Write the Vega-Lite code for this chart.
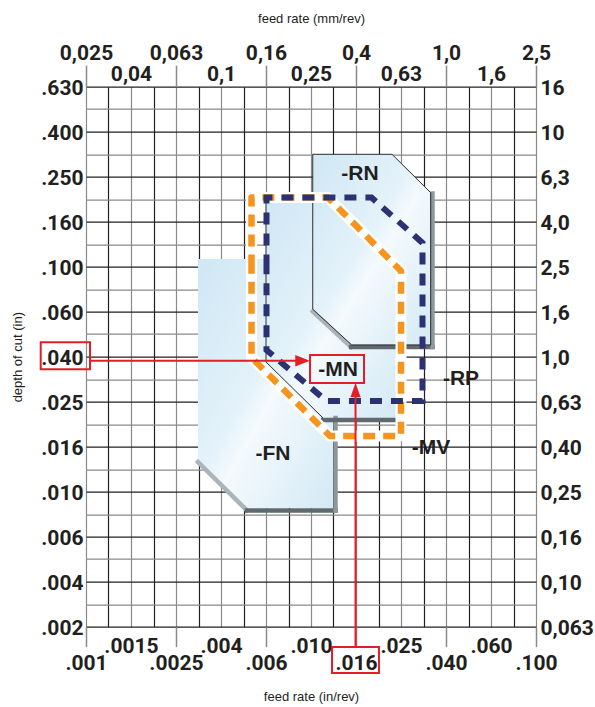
{
  "$schema": "https://vega.github.io/schema/vega-lite/v6.json",
  "width": 450,
  "height": 540,
  "autosize": {"type": "none"},
  "padding": {"left": 86, "top": 86.7, "right": 59, "bottom": 80.3},
  "background": "#ffffff",
  "config": {
    "view": {"stroke": null},
    "axis": {
      "domain": false,
      "grid": false,
      "ticks": false,
      "labelFont": "Roboto, DejaVu Sans Condensed, sans-serif",
      "labelFontSize": 21,
      "labelFontWeight": "bold",
      "labelColor": "#231f20",
      "labelOverlap": false,
      "labelFlush": false,
      "labelBound": false,
      "titleFont": "Liberation Sans, Arial, sans-serif",
      "titleFontSize": 13,
      "titleFontWeight": "normal",
      "titleColor": "#231f20",
      "tickColor": "#8a8a8a",
      "tickWidth": 1.5
    }
  },
  "datasets": {
    "fn": [
      {"i": 1, "x": 0.003146, "y": 0.108},
      {"i": 2, "x": 0.01252, "y": 0.108},
      {"i": 3, "x": 0.01252, "y": 0.00846},
      {"i": 4, "x": 0.005196, "y": 0.00846},
      {"i": 5, "x": 0.003146, "y": 0.01381}
    ],
    "mn": [
      {"i": 1, "x": 0.00631, "y": 0.2058},
      {"i": 2, "x": 0.02436, "y": 0.2058},
      {"i": 3, "x": 0.02436, "y": 0.02123},
      {"i": 4, "x": 0.01131, "y": 0.02123},
      {"i": 5, "x": 0.00631, "y": 0.03766}
    ],
    "rn": [
      {"i": 1, "x": 0.01018, "y": 0.3154},
      {"i": 2, "x": 0.02291, "y": 0.3154},
      {"i": 3, "x": 0.03404, "y": 0.2129},
      {"i": 4, "x": 0.03404, "y": 0.04481},
      {"i": 5, "x": 0.01517, "y": 0.04481},
      {"i": 6, "x": 0.01018, "y": 0.06457}
    ],
    "shadow": [
      {"edge": "lit", "x": 0.003146, "y": 0.01353, "x2": 0.005196, "y2": 0.008237},
      {"edge": "dark", "x": 0.005196, "y": 0.008237, "x2": 0.01285, "y2": 0.008237},
      {"edge": "mid", "x": 0.01285, "y": 0.008237, "x2": 0.01285, "y2": 0.02123},
      {"edge": "dark", "x": 0.01131, "y": 0.0208, "x2": 0.02499, "y2": 0.0208},
      {"edge": "mid", "x": 0.02499, "y": 0.0208, "x2": 0.02499, "y2": 0.04481},
      {"edge": "lit", "x": 0.01018, "y": 0.06313, "x2": 0.01507, "y2": 0.04389},
      {"edge": "dark", "x": 0.01507, "y": 0.04389, "x2": 0.03467, "y2": 0.04389},
      {"edge": "mid", "x": 0.03467, "y": 0.04389, "x2": 0.03467, "y2": 0.2111}
    ],
    "outline": [
      {"id": "mn", "i": 1, "x": 0.00631, "y": 0.2058},
      {"id": "mn", "i": 2, "x": 0.00631, "y": 0.03766},
      {"id": "mn", "i": 3, "x": 0.01131, "y": 0.02123},
      {"id": "rn", "i": 1, "x": 0.01018, "y": 0.3154},
      {"id": "rn", "i": 2, "x": 0.02291, "y": 0.3154},
      {"id": "rn", "i": 3, "x": 0.03404, "y": 0.2129},
      {"id": "rn", "i": 4, "x": 0.03404, "y": 0.04481},
      {"id": "rn", "i": 5, "x": 0.01517, "y": 0.04481},
      {"id": "rn", "i": 6, "x": 0.01018, "y": 0.06457},
      {"id": "rn", "i": 7, "x": 0.01018, "y": 0.3154}
    ],
    "mv": [
      {"i": 1, "x": 0.00544, "y": 0.1},
      {"i": 2, "x": 0.00544, "y": 0.2028},
      {"i": 3, "x": 0.0119, "y": 0.2028},
      {"i": 4, "x": 0.02512, "y": 0.09557},
      {"i": 5, "x": 0.02512, "y": 0.01766},
      {"i": 6, "x": 0.01214, "y": 0.01766},
      {"i": 7, "x": 0.00544, "y": 0.03942},
      {"i": 8, "x": 0.00544, "y": 0.1}
    ],
    "rp": [
      {"i": 1, "x": 0.006342, "y": 0.1},
      {"i": 2, "x": 0.006342, "y": 0.2028},
      {"i": 3, "x": 0.01857, "y": 0.2028},
      {"i": 4, "x": 0.0313, "y": 0.1273},
      {"i": 5, "x": 0.0313, "y": 0.02526},
      {"i": 6, "x": 0.01172, "y": 0.02526},
      {"i": 7, "x": 0.006342, "y": 0.04257},
      {"i": 8, "x": 0.006342, "y": 0.1}
    ],
    "redlines": [
      {"x": 0.001042, "y": 0.03816, "x2": 0.008577, "y2": 0.03816},
      {"x": 0.01577, "y": 0.002037, "x2": 0.01577, "y2": 0.02658}
    ],
    "redboxes": [
      {"x": 0.0006291, "x2": 0.001042, "y": 0.04606, "y2": 0.03494},
      {"x": 0.009899, "x2": 0.0172, "y": 0.04046, "y2": 0.03037},
      {"x": 0.0124, "x2": 0.02005, "y": 0.002037, "y2": 0.001561}
    ],
    "arrows": [
      {"dir": "right", "x": 0.009167, "y": 0.03816},
      {"dir": "up", "x": 0.01577, "y": 0.02827}
    ],
    "names": [
      {"label": "-RN", "x": 0.01651, "y": 0.2579},
      {"label": "-MN", "x": 0.01318, "y": 0.03469},
      {"label": "-FN", "x": 0.006778, "y": 0.01476},
      {"label": "-RP", "x": 0.04642, "y": 0.0318},
      {"label": "-MV", "x": 0.03413, "y": 0.01569}
    ]
  },
  "resolve": {
    "scale": {"x": "shared", "y": "shared"},
    "axis": {"x": "independent", "y": "independent"}
  },
  "layer": [
    {
      "data": {"name": "fn"},
      "mark": {
        "type": "line",
        "filled": true,
        "strokeWidth": 0,
        "fill": {"gradient": "linear", "x1": 0, "y1": 0, "x2": 1, "y2": 1, "stops": [{"offset": 0, "color": "#cfe7f4"}, {"offset": 0.45, "color": "#e4f2fa"}, {"offset": 0.55, "color": "#f4fafd"}, {"offset": 1, "color": "#d3e9f5"}]}
      },
      "encoding": {
        "x": {
          "field": "x", "type": "quantitative",
          "scale": {"type": "log", "domain": [0.001, 0.1], "nice": false},
          "axis": {
            "values": [0.001, 0.0012589, 0.0015849, 0.0019953, 0.0025119, 0.0031623, 0.0039811, 0.0050119, 0.0063096, 0.0079433, 0.01, 0.012589, 0.015849, 0.019953, 0.025119, 0.031623, 0.039811, 0.050119, 0.063096, 0.079433, 0.1],
            "grid": true,
            "gridColor": {"condition": {"test": "round(10*log(datum.value*1000)/LN10) % 2 == 1", "value": "#231f20"}, "value": "#8a8a8a"},
            "gridWidth": 1.2,
            "labels": false,
            "title": null
          }
        },
        "y": {
          "field": "y", "type": "quantitative",
          "scale": {"type": "log", "domain": [0.0025081, 0.63], "nice": false},
          "axis": {
            "values": [0.63, 0.50044, 0.3975, 0.31574, 0.25081, 0.19922, 0.15825, 0.1257, 0.09985, 0.07931, 0.063, 0.050044, 0.03975, 0.031574, 0.025081, 0.019922, 0.015825, 0.01257, 0.009985, 0.007931, 0.0063, 0.0050044, 0.003975, 0.0031574, 0.0025081],
            "grid": true,
            "gridColor": {"condition": {"test": "round(10*log(0.63/datum.value)/LN10) % 2 == 0", "value": "#231f20"}, "value": "#8a8a8a"},
            "gridWidth": 1.2,
            "labels": false,
            "title": null
          }
        },
        "order": {"field": "i"}
      }
    },
    {
      "data": {"name": "mn"},
      "mark": {
        "type": "line",
        "filled": true,
        "strokeWidth": 0,
        "fill": {"gradient": "linear", "x1": 0, "y1": 0, "x2": 1, "y2": 1, "stops": [{"offset": 0, "color": "#cfe7f4"}, {"offset": 0.45, "color": "#e4f2fa"}, {"offset": 0.55, "color": "#f4fafd"}, {"offset": 1, "color": "#d3e9f5"}]}
      },
      "encoding": {
        "x": {
          "field": "x", "type": "quantitative",
          "scale": {"type": "log", "domain": [0.001, 0.1], "nice": false},
          "axis": {
            "orient": "bottom",
            "values": [0.001, 0.0025119, 0.0063096, 0.015849, 0.039811, 0.1],
            "labelExpr": "['.001','.0025','.006','.016','.040','.100'][indexof([0.001,0.0025119,0.0063096,0.015849,0.039811,0.1], datum.value)]",
            "ticks": true,
            "tickSize": 20,
            "labelPadding": 23,
            "labelBaseline": "alphabetic",
            "title": "feed rate (in/rev)",
            "titleX": 225,
            "titleY": 69.5,
            "titleBaseline": "middle"
          }
        },
        "y": {
          "field": "y", "type": "quantitative",
          "scale": {"type": "log", "domain": [0.0025081, 0.63], "nice": false},
          "axis": {
            "orient": "left",
            "values": [0.63, 0.3975, 0.25081, 0.15825, 0.09985, 0.063, 0.03975, 0.025081, 0.015825, 0.009985, 0.0063, 0.003975, 0.0025081],
            "labelExpr": "['.630','.400','.250','.160','.100','.060','.040','.025','.016','.010','.006','.004','.002'][indexof([0.63,0.3975,0.25081,0.15825,0.09985,0.063,0.03975,0.025081,0.015825,0.009985,0.0063,0.003975,0.0025081], datum.value)]",
            "labelPadding": 3,
            "labelOffset": 2,
            "title": "depth of cut (in)",
            "titleX": -69,
            "titleY": 270,
            "titleAngle": 270,
            "titleBaseline": "middle"
          }
        },
        "order": {"field": "i"}
      }
    },
    {
      "data": {"name": "rn"},
      "mark": {
        "type": "line",
        "filled": true,
        "strokeWidth": 0,
        "fill": {"gradient": "linear", "x1": 0, "y1": 0, "x2": 1, "y2": 1, "stops": [{"offset": 0, "color": "#cfe7f4"}, {"offset": 0.45, "color": "#e4f2fa"}, {"offset": 0.55, "color": "#f4fafd"}, {"offset": 1, "color": "#d3e9f5"}]}
      },
      "encoding": {
        "x": {
          "field": "x", "type": "quantitative",
          "scale": {"type": "log", "domain": [0.001, 0.1], "nice": false},
          "axis": {
            "orient": "bottom",
            "values": [0.0015849, 0.0039811, 0.01, 0.025119, 0.063096],
            "labelExpr": "['.0015','.004','.010','.025','.060'][indexof([0.0015849,0.0039811,0.01,0.025119,0.063096], datum.value)]",
            "labelPadding": 26,
            "labelBaseline": "alphabetic",
            "title": null
          }
        },
        "y": {
          "field": "y", "type": "quantitative",
          "scale": {"type": "log", "domain": [0.0025081, 0.63], "nice": false},
          "axis": {
            "orient": "right",
            "values": [0.63, 0.3975, 0.25081, 0.15825, 0.09985, 0.063, 0.03975, 0.025081, 0.015825, 0.009985, 0.0063, 0.003975, 0.0025081],
            "labelExpr": "['16','10','6,3','4,0','2,5','1,6','1,0','0,63','0,40','0,25','0,16','0,10','0,063'][indexof([0.63,0.3975,0.25081,0.15825,0.09985,0.063,0.03975,0.025081,0.015825,0.009985,0.0063,0.003975,0.0025081], datum.value)]",
            "labelPadding": 4,
            "labelOffset": 2,
            "title": null
          }
        },
        "order": {"field": "i"}
      }
    },
    {
      "data": {"name": "shadow"},
      "mark": {"type": "rule", "strokeWidth": 4.5, "strokeCap": "square"},
      "encoding": {
        "x": {
          "field": "x", "type": "quantitative",
          "scale": {"type": "log", "domain": [0.001, 0.1], "nice": false},
          "axis": {
            "orient": "top",
            "values": [0.001, 0.0025119, 0.0063096, 0.015849, 0.039811, 0.1],
            "labelExpr": "['0,025','0,063','0,16','0,4','1,0','2,5'][indexof([0.001,0.0025119,0.0063096,0.015849,0.039811,0.1], datum.value)]",
            "ticks": true,
            "tickSize": 21.5,
            "labelPadding": 5.2,
            "labelBaseline": "alphabetic",
            "title": "feed rate (mm/rev)",
            "titleX": 225,
            "titleY": -68.7,
            "titleBaseline": "middle"
          }
        },
        "x2": {"field": "x2"},
        "y": {
          "field": "y", "type": "quantitative",
          "scale": {"type": "log", "domain": [0.0025081, 0.63], "nice": false},
          "axis": null
        },
        "y2": {"field": "y2"},
        "color": {
          "field": "edge", "type": "nominal",
          "scale": {"domain": ["lit", "mid", "dark"], "range": ["#aab5ba", "#8d989d", "#5f696e"]},
          "legend": null
        }
      }
    },
    {
      "data": {"name": "outline"},
      "mark": {"type": "line", "stroke": "#2e2e2e", "strokeWidth": 1},
      "encoding": {
        "x": {
          "field": "x", "type": "quantitative",
          "scale": {"type": "log", "domain": [0.001, 0.1], "nice": false},
          "axis": {
            "orient": "top",
            "values": [0.0015849, 0.0039811, 0.01, 0.025119, 0.063096],
            "labelExpr": "['0,04','0,1','0,25','0,63','1,6'][indexof([0.0015849,0.0039811,0.01,0.025119,0.063096], datum.value)]",
            "labelPadding": 6.7,
            "labelBaseline": "alphabetic",
            "title": null
          }
        },
        "y": {
          "field": "y", "type": "quantitative",
          "scale": {"type": "log", "domain": [0.0025081, 0.63], "nice": false},
          "axis": null
        },
        "detail": {"field": "id"},
        "order": {"field": "i"}
      }
    },
    {
      "data": {"name": "mv"},
      "mark": {"type": "line", "stroke": "#ffffff", "strokeWidth": 11, "strokeJoin": "round"},
      "encoding": {
        "x": {"field": "x", "type": "quantitative", "scale": {"type": "log", "domain": [0.001, 0.1], "nice": false}, "axis": null},
        "y": {"field": "y", "type": "quantitative", "scale": {"type": "log", "domain": [0.0025081, 0.63], "nice": false}, "axis": null},
        "order": {"field": "i"}
      }
    },
    {
      "data": {"name": "mv"},
      "mark": {"type": "line", "stroke": "#f7941d", "strokeWidth": 6.5, "strokeDash": [12, 8], "strokeJoin": "round"},
      "encoding": {
        "x": {"field": "x", "type": "quantitative", "scale": {"type": "log", "domain": [0.001, 0.1], "nice": false}, "axis": null},
        "y": {"field": "y", "type": "quantitative", "scale": {"type": "log", "domain": [0.0025081, 0.63], "nice": false}, "axis": null},
        "order": {"field": "i"}
      }
    },
    {
      "data": {"name": "rp"},
      "mark": {"type": "line", "stroke": "#2b3172", "strokeWidth": 6, "strokeDash": [12, 9]},
      "encoding": {
        "x": {"field": "x", "type": "quantitative", "scale": {"type": "log", "domain": [0.001, 0.1], "nice": false}, "axis": null},
        "y": {"field": "y", "type": "quantitative", "scale": {"type": "log", "domain": [0.0025081, 0.63], "nice": false}, "axis": null},
        "order": {"field": "i"}
      }
    },
    {
      "data": {"name": "redlines"},
      "mark": {"type": "rule", "stroke": "#e21f26", "strokeWidth": 2},
      "encoding": {
        "x": {"field": "x", "type": "quantitative", "scale": {"type": "log", "domain": [0.001, 0.1], "nice": false}, "axis": null},
        "x2": {"field": "x2"},
        "y": {"field": "y", "type": "quantitative", "scale": {"type": "log", "domain": [0.0025081, 0.63], "nice": false}, "axis": null},
        "y2": {"field": "y2"}
      }
    },
    {
      "data": {"name": "redboxes"},
      "mark": {"type": "rect", "filled": false, "stroke": "#e21f26", "strokeWidth": 2},
      "encoding": {
        "x": {"field": "x", "type": "quantitative", "scale": {"type": "log", "domain": [0.001, 0.1], "nice": false}, "axis": null},
        "x2": {"field": "x2"},
        "y": {"field": "y", "type": "quantitative", "scale": {"type": "log", "domain": [0.0025081, 0.63], "nice": false}, "axis": null},
        "y2": {"field": "y2"}
      }
    },
    {
      "data": {"name": "arrows"},
      "mark": {"type": "point", "filled": true, "color": "#e21f26", "size": 210, "strokeWidth": 0, "opacity": 1},
      "encoding": {
        "x": {"field": "x", "type": "quantitative", "scale": {"type": "log", "domain": [0.001, 0.1], "nice": false}, "axis": null},
        "y": {"field": "y", "type": "quantitative", "scale": {"type": "log", "domain": [0.0025081, 0.63], "nice": false}, "axis": null},
        "shape": {
          "field": "dir", "type": "nominal",
          "scale": {"domain": ["right", "up"], "range": ["M-1,-0.8L1,0L-1,0.8Z", "M-0.7,1L0,-1L0.7,1Z"]},
          "legend": null
        }
      }
    },
    {
      "data": {"name": "names"},
      "mark": {"type": "text", "font": "Liberation Sans, Arial, sans-serif", "fontSize": 21, "fontWeight": "bold", "color": "#231f20", "align": "center", "baseline": "middle"},
      "encoding": {
        "x": {"field": "x", "type": "quantitative", "scale": {"type": "log", "domain": [0.001, 0.1], "nice": false}, "axis": null},
        "y": {"field": "y", "type": "quantitative", "scale": {"type": "log", "domain": [0.0025081, 0.63], "nice": false}, "axis": null},
        "text": {"field": "label"}
      }
    }
  ]
}
